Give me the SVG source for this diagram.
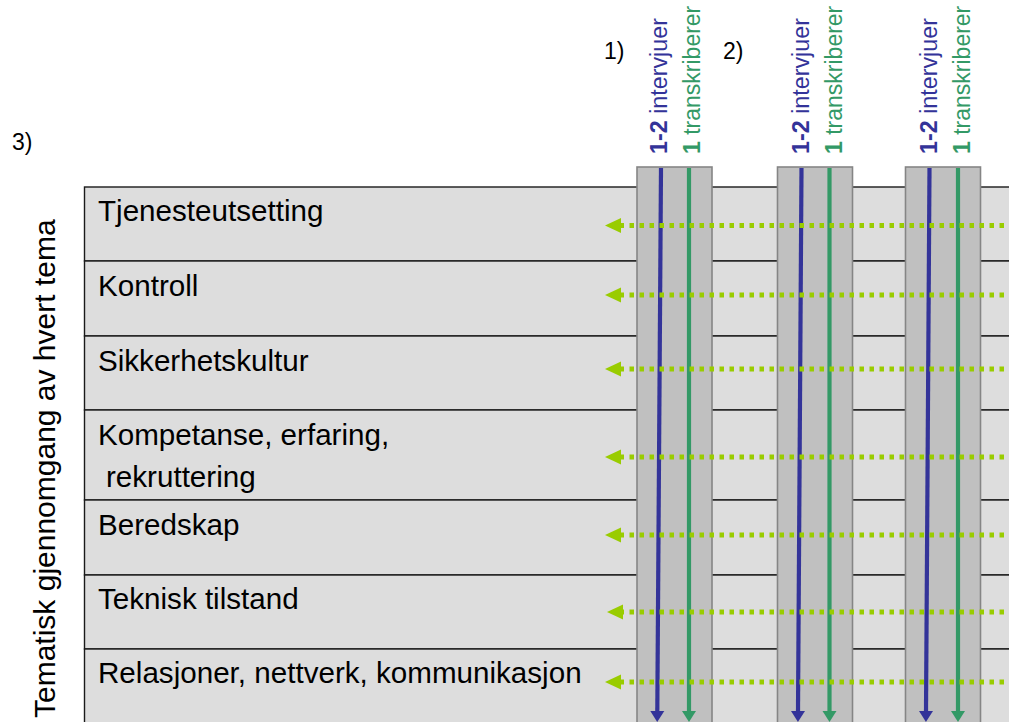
<svg xmlns="http://www.w3.org/2000/svg" width="1009" height="722" viewBox="0 0 1009 722">
<style>
text{font-family:"Liberation Sans",Arial,sans-serif;}
.row{fill:#dddddd;stroke:#1a1a1a;stroke-width:1.4;}
.lbl{font-size:29.6px;fill:#000;}
.num{font-size:23px;fill:#000;}
.col{fill:#c0c0c0;stroke:#858585;stroke-width:1.6;}
.vb{font-size:23.3px;fill:#333399;}
.vg{font-size:23px;fill:#339966;}
.b{font-weight:bold;}
.blue{stroke:#333399;stroke-width:4.2;fill:none;}
.green{stroke:#339966;stroke-width:4.2;fill:none;}
.dot{stroke:#99cc00;stroke-width:5;stroke-dasharray:4.5 5.5;fill:none;}
</style>
<defs>
<marker id="ab" markerUnits="userSpaceOnUse" markerWidth="12" markerHeight="16" viewBox="0 0 12 16" refX="0" refY="8" orient="auto"><path d="M0,1 L11,8 L0,15 z" fill="#333399"/></marker>
<marker id="ag" markerUnits="userSpaceOnUse" markerWidth="12" markerHeight="16" viewBox="0 0 12 16" refX="0" refY="8" orient="auto"><path d="M0,1 L11,8 L0,15 z" fill="#339966"/></marker>
<marker id="ay" markerUnits="userSpaceOnUse" markerWidth="17" markerHeight="17" viewBox="0 0 17 17" refX="0" refY="8.5" orient="auto"><path d="M0,1 L16,8.5 L0,16 z" fill="#99cc00"/></marker>
</defs>

<g id="labels">
<text class="num" x="604" y="59">1)</text>
<text class="num" x="723" y="59">2)</text>
<text class="num" x="12" y="150">3)</text>
<text x="55" y="718" transform="rotate(-90 55 718)" style="font-size:30px">Tematisk gjennomgang av hvert tema</text>
</g>

<g id="row-1"><rect class="row" x="84.5" y="187" width="940" height="74"/><text class="lbl" x="98" y="221">Tjenesteutsetting</text></g>
<g id="row-2"><rect class="row" x="84.5" y="261" width="940" height="75"/><text class="lbl" x="98" y="296">Kontroll</text></g>
<g id="row-3"><rect class="row" x="84.5" y="336" width="940" height="74"/><text class="lbl" x="98" y="371">Sikkerhetskultur</text></g>
<g id="row-4"><rect class="row" x="84.5" y="410" width="940" height="90"/><text class="lbl" x="98" y="445">Kompetanse, erfaring,</text><text class="lbl" x="106" y="487">rekruttering</text></g>
<g id="row-5"><rect class="row" x="84.5" y="500" width="940" height="75"/><text class="lbl" x="98" y="535">Beredskap</text></g>
<g id="row-6"><rect class="row" x="84.5" y="575" width="940" height="74"/><text class="lbl" x="98" y="609">Teknisk tilstand</text></g>
<g id="row-7"><rect class="row" x="84.5" y="649" width="940" height="80"/><text class="lbl" x="98" y="683">Relasjoner, nettverk, kommunikasjon</text></g>

<g id="col-1"><rect class="col" x="637" y="167" width="75" height="570"/>
<text class="vb" x="667" y="154" transform="rotate(-90 667 154)"><tspan class="b">1-2</tspan> intervjuer</text>
<text class="vg" x="700" y="154" transform="rotate(-90 700 154)"><tspan class="b">1</tspan> transkriberer</text></g>
<g id="col-2"><rect class="col" x="777.5" y="167" width="75" height="570"/>
<text class="vb" x="809" y="154" transform="rotate(-90 809 154)"><tspan class="b">1-2</tspan> intervjuer</text>
<text class="vg" x="842" y="154" transform="rotate(-90 842 154)"><tspan class="b">1</tspan> transkriberer</text></g>
<g id="col-3"><rect class="col" x="905.5" y="167" width="75" height="570"/>
<text class="vb" x="937" y="154" transform="rotate(-90 937 154)"><tspan class="b">1-2</tspan> intervjuer</text>
<text class="vg" x="970" y="154" transform="rotate(-90 970 154)"><tspan class="b">1</tspan> transkriberer</text></g>

<g id="connectors">
<line class="blue" x1="661" y1="168" x2="657.3" y2="711" marker-end="url(#ab)"/>
<line class="green" x1="689" y1="168" x2="689" y2="711" marker-end="url(#ag)"/>
<line class="blue" x1="801.5" y1="168" x2="798" y2="711" marker-end="url(#ab)"/>
<line class="green" x1="829.5" y1="168" x2="829.5" y2="711" marker-end="url(#ag)"/>
<line class="blue" x1="929.5" y1="168" x2="926" y2="711" marker-end="url(#ab)"/>
<line class="green" x1="958" y1="168" x2="958" y2="711" marker-end="url(#ag)"/>

<line class="dot" x1="1014" y1="225.5" x2="621" y2="225.5" marker-end="url(#ay)"/>
<line class="dot" x1="1014" y1="295" x2="621" y2="295" marker-end="url(#ay)"/>
<line class="dot" x1="1014" y1="369" x2="621" y2="369" marker-end="url(#ay)"/>
<line class="dot" x1="1014" y1="457" x2="621" y2="457" marker-end="url(#ay)"/>
<line class="dot" x1="1014" y1="535" x2="621" y2="535" marker-end="url(#ay)"/>
<line class="dot" x1="1014" y1="612" x2="623" y2="612" marker-end="url(#ay)"/>
<line class="dot" x1="1014" y1="682" x2="621" y2="682" marker-end="url(#ay)"/>
</g>
</svg>
